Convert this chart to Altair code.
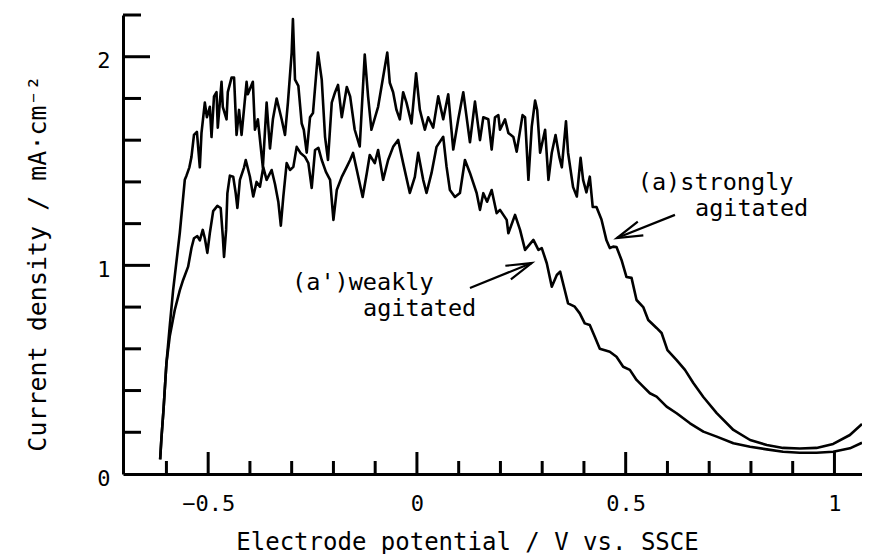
import altair as alt
import pandas as pd

# ---------------- data ----------------
# (a) strongly agitated
a_E = [-0.615, -0.612, -0.607, -0.600, -0.592, -0.584, -0.568, -0.556, -0.552, -0.545,
       -0.540, -0.534, -0.527, -0.520, -0.516, -0.508, -0.503, -0.496, -0.492, -0.486,
       -0.480, -0.477, -0.468, -0.465, -0.456, -0.453, -0.444, -0.438, -0.436, -0.432,
       -0.426, -0.420, -0.408, -0.405, -0.393, -0.388, -0.381, -0.369, -0.360, -0.352,
       -0.345, -0.336, -0.324, -0.316, -0.309, -0.300, -0.297, -0.292, -0.284, -0.276,
       -0.271, -0.264, -0.256, -0.249, -0.237, -0.228, -0.220, -0.213, -0.204, -0.196,
       -0.189, -0.180, -0.168, -0.160, -0.149, -0.137, -0.125, -0.117, -0.109, -0.093,
       -0.085, -0.071, -0.065, -0.057, -0.049, -0.041, -0.033, -0.025, -0.013, -0.002,
       0.007, 0.019, 0.027, 0.039, 0.051, 0.063, 0.075, 0.087, 0.099, 0.111,
       0.127, 0.139, 0.151, 0.159, 0.171, 0.179, 0.187, 0.195, 0.199, 0.211,
       0.219, 0.231, 0.239, 0.253, 0.259, 0.267, 0.275, 0.283, 0.288, 0.295,
       0.307, 0.315, 0.323, 0.332, 0.341, 0.347, 0.357, 0.362, 0.374, 0.383,
       0.392, 0.398, 0.406, 0.414, 0.421, 0.430, 0.442, 0.454, 0.462, 0.470,
       0.478, 0.490, 0.502, 0.514, 0.526, 0.542, 0.554, 0.574, 0.586, 0.600,
       0.622, 0.642, 0.662, 0.686, 0.718, 0.758, 0.798, 0.838, 0.877, 0.917,
       0.957, 0.997, 1.037, 1.066]
a_j = [0.07, 0.17, 0.307, 0.53, 0.71, 0.88, 1.155, 1.41, 1.43, 1.47,
       1.52, 1.625, 1.64, 1.47, 1.635, 1.78, 1.71, 1.76, 1.615, 1.81,
       1.83, 1.66, 1.88, 1.76, 1.70, 1.83, 1.90, 1.90, 1.81, 1.625,
       1.745, 1.625, 1.88, 1.82, 1.88, 1.65, 1.70, 1.47, 1.78, 1.56,
       1.70, 1.80, 1.70, 1.625, 1.78, 2.02, 2.18, 1.89, 1.86, 1.68,
       1.65, 1.54, 1.71, 1.73, 2.02, 1.89, 1.615, 1.505, 1.78, 1.83,
       1.865, 1.71, 1.855, 1.81, 1.65, 1.57, 2.01, 1.81, 1.65, 1.76,
       1.855, 2.02, 1.875, 1.83, 1.745, 1.70, 1.83, 1.78, 1.68, 1.92,
       1.745, 1.65, 1.71, 1.66, 1.81, 1.70, 1.82, 1.555, 1.70, 1.83,
       1.59, 1.785, 1.60, 1.71, 1.70, 1.555, 1.71, 1.72, 1.65, 1.70,
       1.635, 1.615, 1.545, 1.72, 1.71, 1.41, 1.665, 1.79, 1.745, 1.54,
       1.65, 1.41, 1.54, 1.625, 1.52, 1.47, 1.69, 1.54, 1.375, 1.33,
       1.515, 1.41, 1.35, 1.425, 1.28, 1.28, 1.22, 1.12, 1.083, 1.09,
       1.088, 1.026, 0.944, 0.94, 0.834, 0.80, 0.738, 0.70, 0.676, 0.594,
       0.546, 0.499, 0.436, 0.369, 0.292, 0.211, 0.163, 0.139, 0.125, 0.122,
       0.125, 0.144, 0.187, 0.24]

# (a') weakly agitated
b_E = [-0.615, -0.612, -0.607, -0.600, -0.592, -0.580, -0.568, -0.560, -0.548, -0.540,
       -0.534, -0.526, -0.520, -0.513, -0.508, -0.502, -0.496, -0.488, -0.478, -0.470,
       -0.465, -0.462, -0.457, -0.454, -0.448, -0.440, -0.434, -0.430, -0.424, -0.414,
       -0.410, -0.400, -0.392, -0.384, -0.376, -0.368, -0.360, -0.348, -0.340, -0.332,
       -0.326, -0.320, -0.312, -0.304, -0.296, -0.288, -0.279, -0.268, -0.260, -0.252,
       -0.244, -0.236, -0.228, -0.218, -0.208, -0.200, -0.192, -0.180, -0.168, -0.160,
       -0.153, -0.144, -0.130, -0.120, -0.113, -0.101, -0.093, -0.081, -0.069, -0.057,
       -0.045, -0.033, -0.017, -0.005, 0.003, 0.015, 0.023, 0.035, 0.047, 0.063,
       0.071, 0.079, 0.091, 0.103, 0.115, 0.127, 0.143, 0.151, 0.159, 0.168,
       0.179, 0.191, 0.199, 0.215, 0.219, 0.235, 0.247, 0.259, 0.279, 0.291,
       0.299, 0.311, 0.323, 0.335, 0.343, 0.354, 0.362, 0.378, 0.390, 0.402,
       0.414, 0.426, 0.438, 0.462, 0.478, 0.494, 0.510, 0.526, 0.542, 0.558,
       0.574, 0.598, 0.622, 0.654, 0.686, 0.718, 0.758, 0.798, 0.838, 0.877,
       0.917, 0.957, 0.997, 1.037, 1.066]
b_j = [0.07, 0.17, 0.307, 0.53, 0.66, 0.786, 0.88, 0.93, 0.994, 1.083,
       1.13, 1.14, 1.12, 1.17, 1.13, 1.06, 1.155, 1.26, 1.285, 1.275,
       1.14, 1.04, 1.17, 1.345, 1.43, 1.425, 1.345, 1.275, 1.41, 1.47,
       1.505, 1.425, 1.33, 1.40, 1.377, 1.47, 1.41, 1.457, 1.39, 1.305,
       1.19, 1.33, 1.49, 1.457, 1.472, 1.568, 1.539, 1.52, 1.49, 1.371,
       1.553, 1.563, 1.505, 1.448, 1.41, 1.218, 1.361, 1.424, 1.472, 1.505,
       1.539, 1.457, 1.328, 1.443, 1.529, 1.49, 1.553, 1.41, 1.505, 1.568,
       1.601, 1.49, 1.347, 1.424, 1.539, 1.41, 1.347, 1.443, 1.568, 1.616,
       1.472, 1.361, 1.328, 1.347, 1.505, 1.443, 1.347, 1.266, 1.346, 1.305,
       1.361, 1.25, 1.266, 1.218, 1.154, 1.242, 1.17, 1.074, 1.122, 1.074,
       1.083, 1.01, 0.898, 0.954, 0.97, 0.882, 0.818, 0.802, 0.770, 0.722,
       0.714, 0.658, 0.600, 0.586, 0.562, 0.514, 0.499, 0.451, 0.419, 0.387,
       0.371, 0.323, 0.291, 0.243, 0.203, 0.179, 0.147, 0.131, 0.118, 0.107,
       0.102, 0.102, 0.107, 0.123, 0.15]

x_label_values = [-0.5, 0, 0.5, 1]
y_label_values = [0, 1, 2]
x_minor_ticks = [-0.6, -0.4, -0.3, -0.2, -0.1, 0.1, 0.2, 0.3, 0.4, 0.6, 0.7, 0.8, 0.9]
x_major_ticks = [-0.5, 0.0, 0.5, 1.0]
y_minor_ticks = [0.2, 0.4, 0.6, 0.8, 1.2, 1.4, 1.6, 1.8, 2.2]
y_major_ticks = [1.0, 2.0]

label_text = ["(a)strongly", "agitated", "(a')weakly", "agitated"]
label_E = [0.529, 0.666, -0.299, -0.129]
label_j = [1.361, 1.237, 0.882, 0.757]

arrow_tail_E = [0.618, 0.127]
arrow_tail_j = [1.242, 0.892]
arrow_tip_E = [0.479, 0.275]
arrow_tip_j = [1.131, 1.011]

# ---------------- chart ----------------
FONT = "DejaVu Sans Mono"
W, H = 739, 459

curves = pd.concat([
    pd.DataFrame({"E": a_E, "j": a_j, "s": "a"}),
    pd.DataFrame({"E": b_E, "j": b_j, "s": "a'"}),
], ignore_index=True)

xs = alt.Scale(domain=[-0.704, 1.066], nice=False, zero=False)
ys = alt.Scale(domain=[0, 2.2], nice=False, zero=False)

x_axis = alt.Axis(values=x_label_values, format="~g", ticks=False, tickSize=0, grid=False,
                  domainColor="black", domainWidth=3,
                  labelFont=FONT, labelFontSize=22, labelColor="black", labelPadding=19,
                  title="Electrode potential / V vs. SSCE", titleFont=FONT, titleFontSize=24,
                  titleFontWeight="normal", titleColor="black",
                  titleX=344, titleY=75, titleBaseline="alphabetic")
y_axis = alt.Axis(values=y_label_values, format="~g", ticks=False, tickSize=0, grid=False,
                  domainColor="black", domainWidth=3,
                  labelFont=FONT, labelFontSize=22, labelColor="black", labelPadding=13,
                  labelOffset=4,
                  title="Current density / mA·cm⁻²", titleFont=FONT, titleFontSize=25,
                  titleFontWeight="normal", titleColor="black", titleAngle=270,
                  titleX=-78, titleY=248, titleBaseline="alphabetic")

lines = alt.Chart(curves).mark_line(color="black", strokeWidth=2.6, strokeJoin="round",
                                    clip=True).encode(
    x=alt.X("E:Q", scale=xs, axis=x_axis),
    y=alt.Y("j:Q", scale=ys, axis=y_axis),
    detail="s:N",
)

def xticks(vals, length):
    return alt.Chart(pd.DataFrame({"E": vals})).mark_rule(color="black", strokeWidth=3).encode(
        x=alt.X("E:Q", scale=xs), y=alt.value(H), y2=alt.value(H - length))

def yticks(vals, length):
    return alt.Chart(pd.DataFrame({"j": vals})).mark_rule(color="black", strokeWidth=3).encode(
        y=alt.Y("j:Q", scale=ys), x=alt.value(0), x2=alt.value(length))

labels = alt.Chart(pd.DataFrame({"E": label_E, "j": label_j, "t": label_text})).mark_text(
    align="left", baseline="alphabetic", font=FONT, fontSize=23.5, color="black").encode(
    x=alt.X("E:Q", scale=xs), y=alt.Y("j:Q", scale=ys), text="t:N")

arrows = pd.DataFrame({"E": arrow_tail_E, "j": arrow_tail_j,
                       "E2": arrow_tip_E, "j2": arrow_tip_j})
shafts = alt.Chart(arrows).mark_rule(color="black", strokeWidth=2.2).encode(
    x=alt.X("E:Q", scale=xs), y=alt.Y("j:Q", scale=ys), x2="E2:Q", y2="j2:Q")

HEAD = "M -1 -0.29 L 0 0 L -1 0.29"

def head(i, ang):
    d = pd.DataFrame({"E": [arrow_tip_E[i]], "j": [arrow_tip_j[i]]})
    return alt.Chart(d).mark_point(shape=HEAD, filled=False, color="black", strokeWidth=2.2,
                                   size=2600, opacity=1).encode(
        x=alt.X("E:Q", scale=xs), y=alt.Y("j:Q", scale=ys), angle=alt.value(ang))

chart = alt.layer(
    lines,
    xticks(x_minor_ticks, 13), xticks(x_major_ticks, 22),
    yticks(y_minor_ticks, 18), yticks(y_major_ticks, 27),
    labels, shafts, head(0, 158), head(1, 338),
).properties(
    width=W, height=H,
    autosize=alt.AutoSizeParams(type="none"),
    padding={"left": 115, "top": 7, "right": 0, "bottom": 80},
    background="white",
).configure_view(stroke=None)

chart.save("out.html", embed_options={"renderer": "svg", "actions": False})
